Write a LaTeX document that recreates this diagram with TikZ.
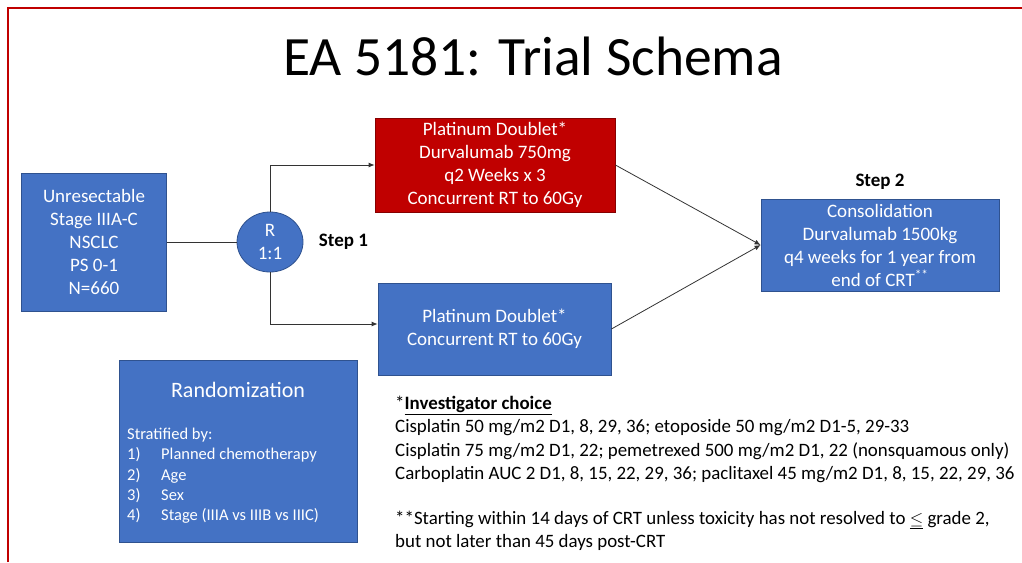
\documentclass[tikz,border=0pt]{standalone}
\usepackage{fontspec}
\setmainfont{Carlito}
\usetikzlibrary{positioning,arrows.meta,shapes.geometric,calc}
\definecolor{schemablue}{RGB}{68,114,196}
\definecolor{schemaedge}{RGB}{47,82,143}
\definecolor{schemared}{RGB}{192,0,0}

\begin{document}
\begin{tikzpicture}[
  x=1pt, y=-1pt, >={Latex[length=6pt,width=5pt]},
  box/.style={draw=schemaedge, fill=schemablue, text=white, align=center, inner sep=0pt,
    line width=0.8pt, font=\fontsize{19}{23}\selectfont},
  redbox/.style={box, fill=schemared, draw=schemared!70!black},
  rnd/.style={box, ellipse, minimum width=66pt, minimum height=60pt},
  lbl/.style={font=\fontsize{19}{22}\selectfont\bfseries},
  note/.style={font=\fontsize{18.9}{23.2}\selectfont, align=left, inner sep=0pt},
  link/.style={draw=black!80, line width=0.8pt},
]
\useasboundingbox (0,0) rectangle (1022,562);
% ---- frame and title ----
\draw[schemared, line width=2pt] (7.8,562) -- (7.8,7.8) -- (1022,7.8);
\node[font=\fontsize{55.5}{60}\selectfont, anchor=base] (title) at (533,75) {EA 5181: Trial Schema};
% ---- step 1: eligibility and randomization ----
\node[box, minimum width=145pt, minimum height=138pt] (elig) at (94,242)
  {Unresectable\\Stage IIIA-C\\NSCLC\\PS 0-1\\N=660};
\node[rnd] (rnd) at (270,242) {R\\1:1};
\node[lbl, right=12pt of rnd] (step1) {Step 1};
\node[redbox, minimum width=240pt, minimum height=94pt] (armA) at (495,165)
  {Platinum Doublet*\\Durvalumab 750mg\\q2 Weeks x 3\\Concurrent RT to 60Gy};
\node[box, minimum width=233pt, minimum height=92pt] (armB) at (494.5,329)
  {Platinum Doublet*\\Concurrent RT to 60Gy};
% ---- step 2: consolidation ----
\node[box, minimum width=238pt, minimum height=92pt] (cons) at (880,245)
  {Consolidation\\Durvalumab 1500kg\\q4 weeks for 1 year from\\end of CRT\textsuperscript{**}};
\node[lbl, above=6pt of cons] (step2) {Step 2};
% ---- connectors ----
\draw[link] (elig) -- (rnd);
\draw[link, ->] (rnd.north) |- (armA.west);
\draw[link, ->] (rnd.south) |- ([yshift=5pt]armB.west);
\draw[link, ->] (armA.east) -- (cons.west);
\draw[link, ->] (armB.east) -- (cons.west);
% ---- stratification ----
\node[box, minimum width=238pt, minimum height=182pt] (rand) at (238,451) {};
\node[text=white, font=\fontsize{22}{26}\selectfont, anchor=base] (randt) at (238,397) {Randomization};
\node[note, text=white, font=\fontsize{16.5}{20.3}\selectfont, anchor=north west] (strat) at (127,428)
  {Stratified by:\\
   \makebox[34pt][l]{1)}Planned chemotherapy\\
   \makebox[34pt][l]{2)}Age\\
   \makebox[34pt][l]{3)}Sex\\
   \makebox[34pt][l]{4)}Stage (IIIA vs IIIB vs IIIC)};
% ---- footnotes ----
\node[note, anchor=north west] (chemo) at (395,396)
  {*\underline{\textbf{Investigator choice}}\\
   Cisplatin 50 mg/m2 D1, 8, 29, 36; etoposide 50 mg/m2 D1-5, 29-33\\
   Cisplatin 75 mg/m2 D1, 22; pemetrexed 500 mg/m2 D1, 22 (nonsquamous only)\\
   Carboplatin AUC 2 D1, 8, 15, 22, 29, 36; paclitaxel 45 mg/m2 D1, 8, 15, 22, 29, 36};
\node[note, below=28pt of chemo.south west, anchor=north west] (start)
  {**Starting within 14 days of CRT unless toxicity has not resolved to \underline{$\leq$} grade 2,\\
   but not later than 45 days post-CRT};
\end{tikzpicture}
\end{document}
